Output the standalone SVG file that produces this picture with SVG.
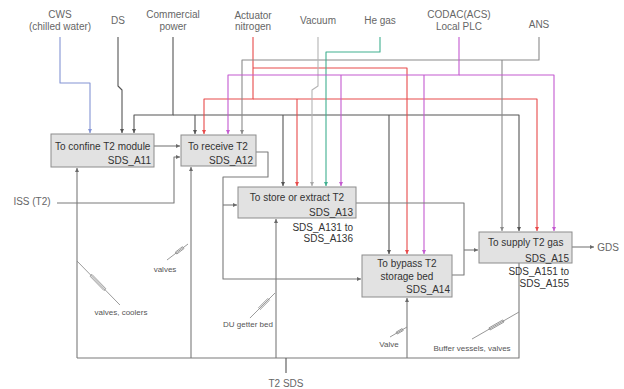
<svg xmlns="http://www.w3.org/2000/svg" width="624" height="389" viewBox="0 0 624 389">
<style>
text{font-family:"Liberation Sans",Arial,sans-serif;}
.lbl{font-size:10px;fill:#666;text-anchor:middle;}
.bt{font-size:10px;fill:#333;}
.r{text-anchor:end;}
.c{text-anchor:middle;}
.ann{font-size:8px;fill:#555;text-anchor:middle;}
.box{fill:#e2e2e2;stroke:#8c8c8c;stroke-width:1;}
.ln{fill:none;stroke-width:1.1;stroke-linejoin:round;}
.dk{stroke:#555;}
.gy{stroke:#8a8a8a;}
.lg{stroke:#b4b4b4;}
.bl{stroke:#8494d4;}
.rd{stroke:#e84a4a;}
.mg{stroke:#c45ad0;}
.gn{stroke:#40b090;}
.fl{stroke:#7a7a7a;}
.ld{fill:none;stroke:#8a8a8a;stroke-width:0.8;}
</style>
<defs>
<marker id="a-dk" viewBox="0 0 6 6" refX="6" refY="3" markerWidth="4" markerHeight="4" orient="auto" markerUnits="userSpaceOnUse"><path d="M0,0L6,3L0,6z" fill="#555"/></marker>
<marker id="a-gy" viewBox="0 0 6 6" refX="6" refY="3" markerWidth="4" markerHeight="4" orient="auto" markerUnits="userSpaceOnUse"><path d="M0,0L6,3L0,6z" fill="#8a8a8a"/></marker>
<marker id="a-lg" viewBox="0 0 6 6" refX="6" refY="3" markerWidth="4" markerHeight="4" orient="auto" markerUnits="userSpaceOnUse"><path d="M0,0L6,3L0,6z" fill="#a8a8a8"/></marker>
<marker id="a-bl" viewBox="0 0 6 6" refX="6" refY="3" markerWidth="4" markerHeight="4" orient="auto" markerUnits="userSpaceOnUse"><path d="M0,0L6,3L0,6z" fill="#8494d4"/></marker>
<marker id="a-rd" viewBox="0 0 6 6" refX="6" refY="3" markerWidth="4" markerHeight="4" orient="auto" markerUnits="userSpaceOnUse"><path d="M0,0L6,3L0,6z" fill="#e84a4a"/></marker>
<marker id="a-mg" viewBox="0 0 6 6" refX="6" refY="3" markerWidth="4" markerHeight="4" orient="auto" markerUnits="userSpaceOnUse"><path d="M0,0L6,3L0,6z" fill="#c45ad0"/></marker>
<marker id="a-gn" viewBox="0 0 6 6" refX="6" refY="3" markerWidth="4" markerHeight="4" orient="auto" markerUnits="userSpaceOnUse"><path d="M0,0L6,3L0,6z" fill="#40b090"/></marker>
<marker id="a-fl" viewBox="0 0 6 6" refX="6" refY="3" markerWidth="4" markerHeight="4" orient="auto" markerUnits="userSpaceOnUse"><path d="M0,0L6,3L0,6z" fill="#6a6a6a"/></marker>
</defs>
<rect width="624" height="389" fill="#fff"/>

<g id="sources">
<text class="lbl" x="60" y="17.5">CWS</text>
<text class="lbl" x="60" y="29.5">(chilled water)</text>
<text class="lbl" x="118" y="23.5">DS</text>
<text class="lbl" x="173" y="17.5">Commercial</text>
<text class="lbl" x="173" y="29.5">power</text>
<text class="lbl" x="253" y="18.5">Actuator</text>
<text class="lbl" x="253" y="30">nitrogen</text>
<text class="lbl" x="318" y="24">Vacuum</text>
<text class="lbl" x="380" y="24">He gas</text>
<text class="lbl" x="459" y="17.5">CODAC(ACS)</text>
<text class="lbl" x="459" y="29.5">Local PLC</text>
<text class="lbl" x="539" y="27.5">ANS</text>
<text class="lbl" x="32" y="204.5">ISS (T2)</text>
<text class="lbl" x="286" y="387">T2 SDS</text>
<text class="lbl" x="608" y="250.5">GDS</text>
</g>

<g id="connectors">
<!-- CWS -->
<path class="ln bl" d="M60,37V83H90V133" marker-end="url(#a-bl)"/>
<!-- DS -->
<path class="ln dk" d="M118,37V86L122,90V133" marker-end="url(#a-dk)"/>
<!-- Commercial power -->
<path class="ln dk" d="M173,37V115H134V133" marker-end="url(#a-dk)"/>
<path class="ln dk" d="M173,115H519V231" marker-end="url(#a-dk)" stroke-width="1.3"/>
<path class="ln dk" d="M195,115V134" marker-end="url(#a-dk)"/>
<path class="ln dk" d="M283,115V186" marker-end="url(#a-dk)"/>
<path class="ln dk" d="M389,115V254" marker-end="url(#a-dk)" stroke-width="1.3"/>
<!-- Actuator nitrogen -->
<path class="ln rd" d="M253,37V99H204V134" marker-end="url(#a-rd)"/>
<path class="ln rd" d="M253,68H407V254" marker-end="url(#a-rd)"/>
<path class="ln rd" d="M253,99H537V231" marker-end="url(#a-rd)"/>
<path class="ln rd" d="M297,99V186" marker-end="url(#a-rd)"/>
<!-- ANS -->
<path class="ln gy" d="M539,37V60H242V134" marker-end="url(#a-gy)"/>
<path class="ln gy" d="M502,60V231" marker-end="url(#a-gy)"/>
<!-- Vacuum -->
<path class="ln lg" d="M318,37V86L312,90V186" marker-end="url(#a-lg)"/>
<!-- He gas -->
<path class="ln gn" d="M380,37V52H326V186" marker-end="url(#a-gn)"/>
<!-- CODAC -->
<path class="ln mg" d="M459,37V75H228V134" marker-end="url(#a-mg)"/>
<path class="ln mg" d="M459,75H554V231" marker-end="url(#a-mg)"/>
<path class="ln mg" d="M341,75V186" marker-end="url(#a-mg)"/>
<path class="ln mg" d="M424,75V254" marker-end="url(#a-mg)"/>
<!-- flows -->
<path class="ln fl" d="M154,146H180" marker-end="url(#a-fl)"/>
<path class="ln fl" d="M57,203H174V157H180" marker-end="url(#a-fl)"/>
<path class="ln fl" d="M256,152H268V177H223V279H361" marker-end="url(#a-fl)"/>
<path class="ln fl" d="M223,205H237" marker-end="url(#a-fl)"/>
<path class="ln fl" d="M356,203H464V275H452"/>
<path class="ln fl" d="M464,250H478" marker-end="url(#a-fl)"/>
<path class="ln fl" d="M572,247H594" marker-end="url(#a-fl)"/>
<!-- T2 SDS bus -->
<path class="ln fl" d="M77,358H519V263"/>
<path class="ln fl" d="M77,358V168" marker-end="url(#a-fl)"/>
<path class="ln fl" d="M191,358V167" marker-end="url(#a-fl)"/>
<path class="ln fl" d="M276,358V219" marker-end="url(#a-fl)"/>
<path class="ln fl" d="M407,358V298" marker-end="url(#a-fl)"/>
<path class="ln dk" d="M286,358V373" stroke-width="1.3"/>
</g>

<g id="A11">
<rect class="box" x="51" y="134" width="103" height="33"/>
<text class="bt" x="55" y="149.5">To confine T2 module</text>
<text class="bt r" x="151" y="163.5">SDS_A11</text>
</g>
<g id="A12">
<rect class="box" x="181" y="135" width="75" height="31"/>
<text class="bt" x="188" y="149.5">To receive T2</text>
<text class="bt r" x="253" y="163.5">SDS_A12</text>
</g>
<g id="A13">
<rect class="box" x="238" y="187" width="118" height="31"/>
<text class="bt c" x="297" y="200.5">To store or extract T2</text>
<text class="bt r" x="353" y="215.5">SDS_A13</text>
<text class="bt r" x="353" y="230.5">SDS_A131 to</text>
<text class="bt r" x="353" y="241.5">SDS_A136</text>
</g>
<g id="A14">
<rect class="box" x="362" y="255" width="90" height="42"/>
<text class="bt c" x="407" y="266.5">To bypass T2</text>
<text class="bt c" x="407" y="279.5">storage bed</text>
<text class="bt r" x="450" y="292.5">SDS_A14</text>
</g>
<g id="A15">
<rect class="box" x="479" y="232" width="93" height="31"/>
<text class="bt" x="488" y="245.5">To supply T2 gas</text>
<text class="bt r" x="569" y="261.5">SDS_A15</text>
<text class="bt r" x="569" y="274.5">SDS_A151 to</text>
<text class="bt r" x="569" y="286.5">SDS_A155</text>
</g>

<g id="annotations">
<g transform="translate(77,261) rotate(45.7)"><line class="ld" x1="0" y1="0" x2="61.5" y2="0"/><rect class="ld" x="20" y="-1.3" width="20" height="2.6"/></g>
<text class="ann" x="121" y="315">valves, coolers</text>
<g transform="translate(188,244) rotate(142.7)"><line class="ld" x1="0" y1="0" x2="26.4" y2="0"/><rect class="ld" x="6" y="-1.2" width="9" height="2.4"/></g>
<text class="ann" x="165" y="272">valves</text>
<g transform="translate(275,293) rotate(135)"><line class="ld" x1="0" y1="0" x2="35.4" y2="0"/><rect class="ld" x="9" y="-1.2" width="13" height="2.4"/></g>
<text class="ann" x="248" y="327">DU getter bed</text>
<g transform="translate(407,327) rotate(149.5)"><line class="ld" x1="0" y1="0" x2="19.7" y2="0"/><rect class="ld" x="5" y="-1.1" width="7" height="2.2"/></g>
<text class="ann" x="389" y="347">Valve</text>
<g transform="translate(519,312) rotate(150.1)"><line class="ld" x1="0" y1="0" x2="54.2" y2="0"/><rect class="ld" x="18" y="-1.2" width="16" height="2.4"/></g>
<text class="ann" x="472" y="351">Buffer vessels, valves</text>
</g>
</svg>
